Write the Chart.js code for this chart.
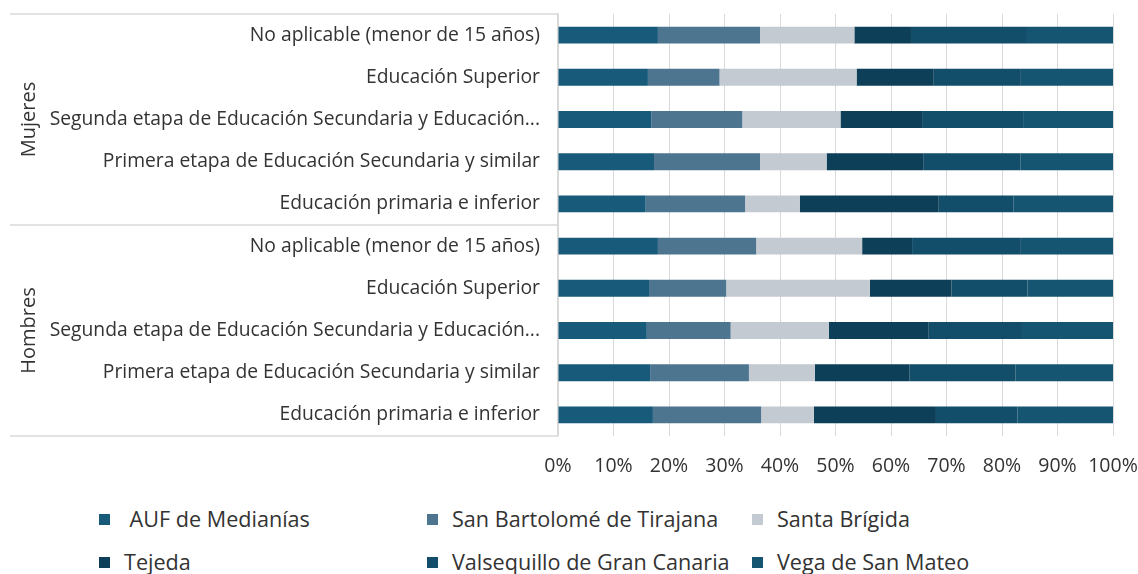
<!DOCTYPE html>
<html>
<head>
<meta charset="utf-8">
<script src="https://cdn.jsdelivr.net/npm/chart.js@4"></script>
<style>
  html, body { margin: 0; padding: 0; background: #fff; }
  body { width: 1138px; height: 574px; position: relative; overflow: hidden; font-family: "Open Sans", sans-serif; }
  #wrap { position: absolute; left: 0; top: 0; width: 1138px; height: 490px; }
  #legend { position: absolute; left: 0; top: 506px; width: 1138px; }
  .item { position: absolute; font-size: 21.6px; color: #333; white-space: pre; line-height: 26px; }
  .item span.box { display: inline-block; width: 11px; height: 11px; margin-right: 14px; vertical-align: 2px; }
</style>
</head>
<body>
<div id="wrap"><canvas id="chart"></canvas></div>
<div id="legend"></div>
<script>
// Categorías (de arriba a abajo): Mujeres y luego Hombres
const niveles = [
  'No aplicable (menor de 15 años)',
  'Educación Superior',
  'Segunda etapa de Educación Secundaria y Educación...',
  'Primera etapa de Educación Secundaria y similar',
  'Educación primaria e inferior'
];
const grupos = ['Mujeres', 'Hombres'];
const categorias = niveles.concat(niveles);

// Porcentajes por municipio (Mujeres x5, Hombres x5)
const aufMedianias   = [18.0, 16.2, 16.8, 17.3, 15.8, 18.0, 16.4, 16.0, 16.6, 17.1];
const sanBartolome   = [18.4, 12.9, 16.4, 19.1, 17.9, 17.7, 13.9, 15.1, 17.8, 19.5];
const santaBrigida   = [17.0, 24.7, 17.7, 12.0,  9.9, 19.1, 25.9, 17.7, 11.9,  9.5];
const tejeda         = [10.2, 13.9, 14.7, 17.5, 25.0,  9.0, 14.7, 18.0, 17.0, 22.0];
const valsequillo    = [20.9, 15.7, 18.2, 17.4, 13.5, 19.6, 13.7, 16.8, 19.1, 14.7];
const vegaSanMateo   = [15.5, 16.6, 16.2, 16.7, 17.9, 16.6, 15.4, 16.4, 17.6, 17.2];

const nombres = [' AUF de Medianías', 'San Bartolomé de Tirajana', 'Santa Brígida',
                 'Tejeda', 'Valsequillo de Gran Canaria', 'Vega de San Mateo'];
const colores = ['#175a7a', '#4e7590', '#c4cad2', '#0e3f58', '#124d69', '#155571'];
const series = [aufMedianias, sanBartolome, santaBrigida, tejeda, valsequillo, vegaSanMateo];

const ticksX = ['0%', '10%', '20%', '30%', '40%', '50%', '60%', '70%', '80%', '90%', '100%'];

const FONT = '"Open Sans", sans-serif';
const TEXT = '#333333';
const LINEA = '#d9d9d9';

// Etiquetas de grupo (Mujeres / Hombres) y líneas separadoras del eje
const gruposPlugin = {
  id: 'grupos',
  afterDraw(chart) {
    const ctx = chart.ctx;
    const y = chart.scales.y;
    const area = chart.chartArea;
    const n = niveles.length;
    ctx.save();
    ctx.strokeStyle = LINEA;
    ctx.lineWidth = 1.5;
    const bordes = [area.top];
    for (let g = 1; g < grupos.length; g++) {
      bordes.push((y.getPixelForValue(g * n - 1) + y.getPixelForValue(g * n)) / 2);
    }
    bordes.push(area.bottom);
    bordes.forEach(b => {
      ctx.beginPath();
      ctx.moveTo(10, b);
      ctx.lineTo(area.left, b);
      ctx.stroke();
    });
    ctx.fillStyle = TEXT;
    ctx.font = '20px ' + FONT;
    ctx.textAlign = 'center';
    ctx.textBaseline = 'middle';
    grupos.forEach((g, i) => {
      const c = (y.getPixelForValue(i * n) + y.getPixelForValue(i * n + n - 1)) / 2;
      ctx.save();
      ctx.translate(29, c);
      ctx.rotate(-Math.PI / 2);
      ctx.fillText(g, 0, 0);
      ctx.restore();
    });
    ctx.restore();
  }
};

const chart = new Chart(document.getElementById('chart'), {
  type: 'bar',
  data: {
    labels: categorias,
    datasets: series.map((d, i) => ({
      label: nombres[i],
      data: d,
      backgroundColor: colores[i],
      borderWidth: 0,
      categoryPercentage: 1,
      barPercentage: 0.4
    }))
  },
  options: {
    indexAxis: 'y',
    responsive: true,
    maintainAspectRatio: false,
    animation: false,
    layout: { padding: { top: 14, left: 0, right: 0, bottom: 0 } },
    plugins: {
      legend: { display: false },
      tooltip: { enabled: false }
    },
    scales: {
      x: {
        stacked: true,
        min: 0,
        max: 100,
        afterFit(scale) {
          scale.height = 54;
          scale.paddingLeft = 0;
          scale.paddingRight = 25;
        },
        grid: { color: LINEA, drawTicks: false },
        border: { display: false },
        ticks: {
          stepSize: 10,
          padding: 19,
          color: TEXT,
          font: { family: FONT, size: 19.5 },
          callback: (v, i) => ticksX[i]
        }
      },
      y: {
        stacked: true,
        afterFit(scale) {
          scale.width = 558;
          scale.paddingTop = 0;
          scale.paddingBottom = 0;
        },
        grid: { display: false, drawTicks: false },
        border: { display: true, color: LINEA, width: 1.5 },
        ticks: {
          padding: 18,
          color: TEXT,
          font: { family: FONT, size: 19.3 },
          autoSkip: false
        }
      }
    }
  },
  plugins: [gruposPlugin]
});

// Leyenda en HTML a partir de los datasets
const cols = [99, 427, 752];
const filas = [0, 43];
const leyenda = document.getElementById('legend');
chart.data.datasets.forEach((ds, i) => {
  const el = document.createElement('div');
  el.className = 'item';
  el.style.left = cols[i % 3] + 'px';
  el.style.top = filas[Math.floor(i / 3)] + 'px';
  el.innerHTML = '<span class="box" style="background:' + ds.backgroundColor + '"></span>';
  el.appendChild(document.createTextNode(ds.label));
  leyenda.appendChild(el);
});
</script>
</body>
</html>
